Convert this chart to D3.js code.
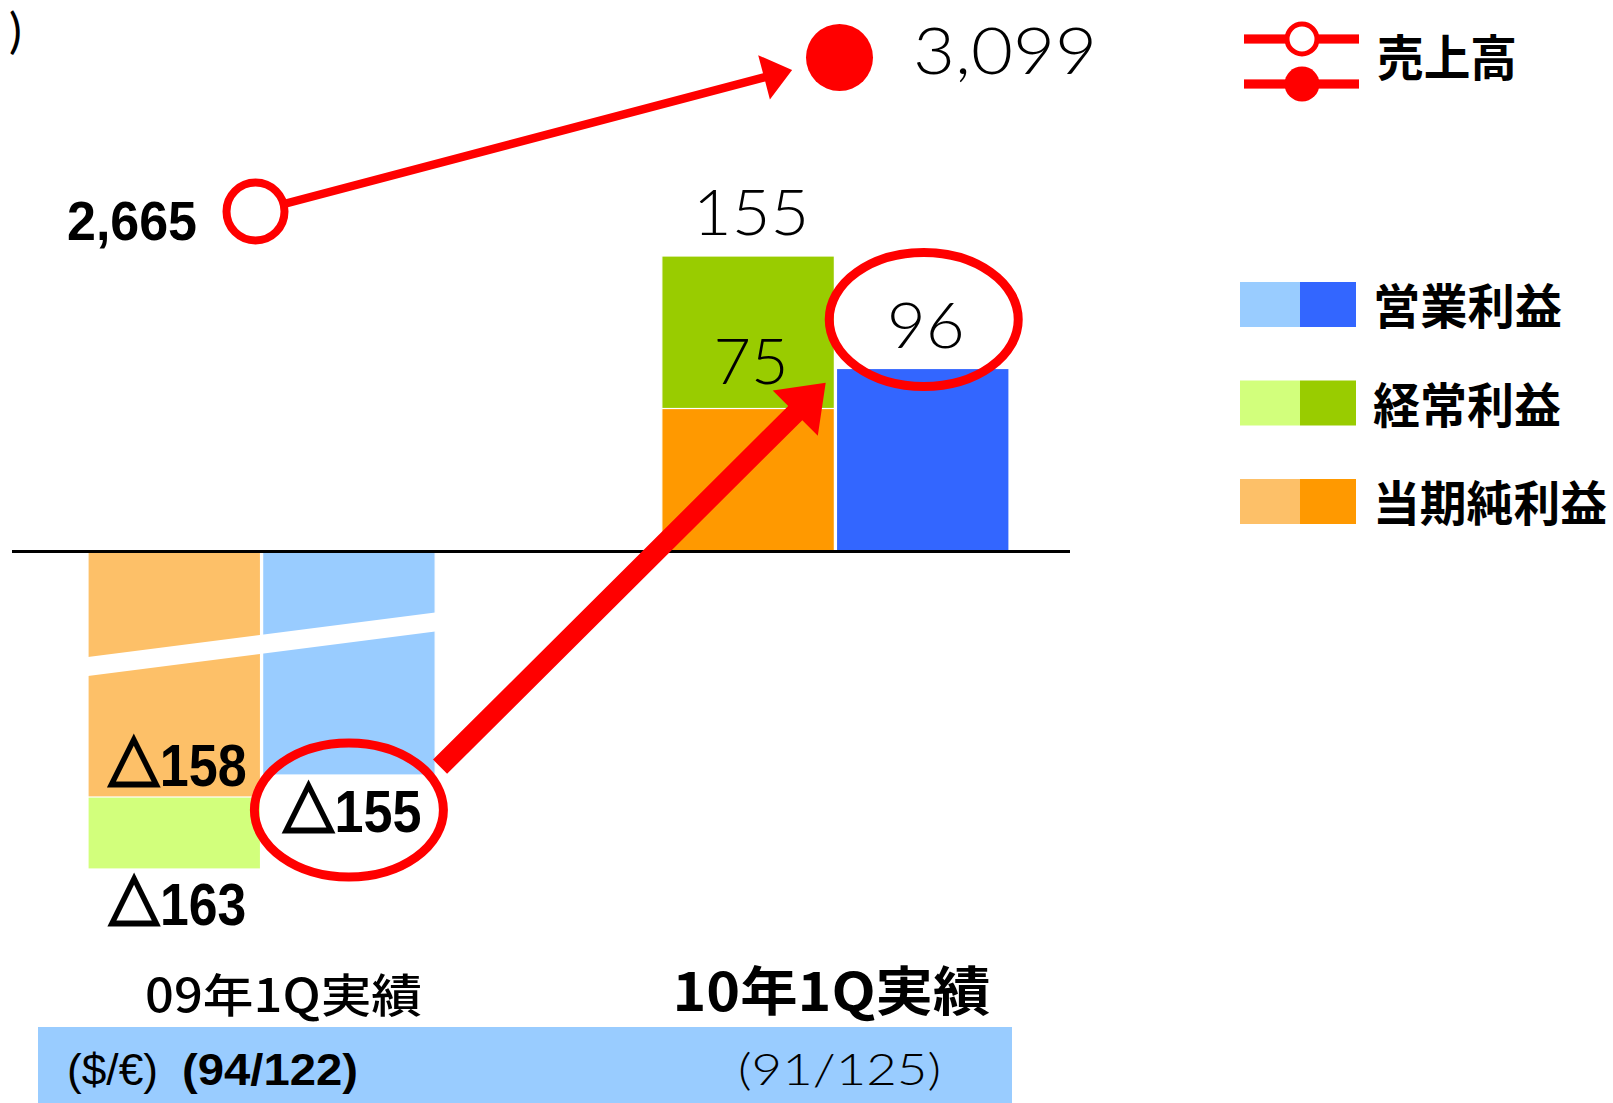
<!DOCTYPE html>
<html>
<head>
<meta charset="utf-8">
<script src="https://cdn.jsdelivr.net/npm/d3@7"></script>
<style>
  html, body { margin: 0; padding: 0; background: #fff; }
  svg { display: block; }
</style>
</head>
<body>
<svg id="chart" width="1613" height="1103"></svg>
<script>
// ---- data -------------------------------------------------------------
const periods = ["09年1Q実績", "10年1Q実績"];
const rateUnit = "($/€)";
const rates = ["(94/122)", "(91/125)"];

// 売上高 (net sales)
const salesName = "売上高";
const sales = [2665, 3099];

// profit series, one value per period
const seriesNames = ["営業利益", "経常利益", "当期純利益"];
const operatingProfit = [-155, 96];
const ordinaryProfit = [-163, 155];
const netProfit = [-158, 75];

// ---- styling ----------------------------------------------------------
const RED = "#ff0000";
const lightColors = ["#99ccff", "#d2ff7c", "#fdc068"];
const darkColors = ["#3366ff", "#99cc00", "#ff9900"];
const fBold = "'Liberation Sans', Arial, 'DejaVu Sans', sans-serif";
const fThin = "Lato, 'Open Sans', sans-serif";
const fJP = "'Noto Sans CJK JP', 'Noto Sans CJK SC', sans-serif";

const svg = d3.select("#chart");

// ---- scales -----------------------------------------------------------
const x0 = d3.scaleBand().domain(periods).range([88, 1009])
  .paddingInner(0.395).paddingOuter(0);
const x1 = d3.scaleBand().domain(["left", "right"]).range([0, x0.bandwidth()])
  .paddingInner(0.012);

// profit axis: linear on the gain side, broken (shortened) on the loss side
const yProfit = d3.scaleLinear()
  .domain([-163, -158, -155, 0, 155])
  .range([869, 797, 775, 551.5, 256]);

// sales use their own axes
const xSales = d3.scalePoint().domain(periods).range([255.5, 839.5]);
const ySales = d3.scaleLinear().domain([2500, 3200]).range([270, 21.7]);

const fmtSales = d3.format(",");
const fmtProfit = v => (v < 0 ? "△" + Math.abs(v) : String(v));

function label(g, s) {
  const t = g.append("text")
    .attr("x", s.x).attr("y", s.y)
    .attr("font-family", s.family)
    .attr("font-size", s.size)
    .attr("font-weight", s.weight || 400)
    .attr("text-anchor", s.anchor || "start")
    .attr("fill", s.fill || "#000");
  if (s.text.startsWith("△")) {
    // heavy outlined delta mark in front of the loss figure
    t.append("tspan").attr("font-family", fJP).attr("font-weight", 900)
      .attr("stroke", "#000").attr("stroke-width", 3.2).attr("stroke-linejoin", "miter")
      .text("△");
    t.append("tspan").text(s.text.slice(1));
  } else {
    t.text(s.text);
  }
  if (s.width) t.attr("textLength", s.width).attr("lengthAdjust", "spacingAndGlyphs");
  return t;
}

// filled arrow (shaft + triangular head) from point a to point b
function arrowPath(a, b, shaftW, headW, headL) {
  const dx = b[0] - a[0], dy = b[1] - a[1];
  const len = Math.hypot(dx, dy);
  const ux = dx / len, uy = dy / len, nx = -uy, ny = ux;
  const bx = b[0] - ux * headL, by = b[1] - uy * headL;
  const p = (x, y, k) => [x + nx * k, y + ny * k];
  const pts = [
    p(a[0], a[1], shaftW / 2), p(bx, by, shaftW / 2), p(bx, by, headW / 2),
    b, p(bx, by, -headW / 2), p(bx, by, -shaftW / 2), p(a[0], a[1], -shaftW / 2)
  ];
  return "M" + pts.map(q => q[0].toFixed(1) + "," + q[1].toFixed(1)).join("L") + "Z";
}

// ---- bars -------------------------------------------------------------
const bars = [];
periods.forEach((p, i) => {
  bars.push({ p, i, s: 1, col: "left", v: ordinaryProfit[i] });
  bars.push({ p, i, s: 2, col: "left", v: netProfit[i] });
  bars.push({ p, i, s: 0, col: "right", v: operatingProfit[i] });
});

const gBars = svg.append("g");
gBars.selectAll("rect").data(bars).join("rect")
  .attr("x", d => x0(d.p) + x1(d.col))
  .attr("width", x1.bandwidth())
  .attr("y", d => Math.min(yProfit(d.v), yProfit(0)))
  .attr("height", d => Math.abs(yProfit(d.v) - yProfit(0)))
  .attr("fill", d => (d.i === 0 ? lightColors[d.s] : darkColors[d.s]))
  .attr("stroke", "#fff")
  .attr("stroke-width", 1.2);

// axis-break marker across the loss bars
{
  const gx = x0(periods[0]);
  const bx0 = gx - 2, bx1 = gx + x0.bandwidth() + 2;
  const by = yProfit(-80), tilt = 45, half = 9.5;
  svg.append("path")
    .attr("d", `M${bx0},${by - half}L${bx1},${by - tilt - half}L${bx1},${by - tilt + half}L${bx0},${by + half}Z`)
    .attr("fill", "#fff");
}

// zero line
svg.append("line")
  .attr("x1", 12).attr("x2", 1070)
  .attr("y1", yProfit(0)).attr("y2", yProfit(0))
  .attr("stroke", "#000").attr("stroke-width", 3);

// ---- bar value labels ---------------------------------------------------
const gLab = svg.append("g");
const labelPos = {
  // [period index][series]: baseline offset from the bar end
  0: { 0: 57, 1: 56, 2: -11 },
  1: { 0: -20, 1: -21, 2: -25 }
};
const labelWidth = { 0: { 0: 139, 1: 138, 2: 139 }, 1: { 0: 78, 1: 116, 2: 75 } };
const labelPoints = {};
bars.forEach(d => {
  const cx = x0(d.p) + x1(d.col) + x1.bandwidth() / 2 + 3;
  const y = yProfit(d.v) + labelPos[d.i][d.s];
  const neg = d.v < 0;
  label(gLab, {
    x: cx, y, anchor: "middle", text: fmtProfit(d.v),
    family: neg ? fBold : fThin, weight: neg ? 700 : 300,
    size: neg ? 59 : 64, width: labelWidth[d.i][d.s]
  });
  labelPoints[d.i + "-" + d.s] = [cx, y];
});

// ---- highlight of 営業利益 labels and the improvement arrow -----------
const rx = 94.5, ry = 67;
const e0 = labelPoints["0-0"], e1 = labelPoints["1-0"];
const c0 = [e0[0] - 3, e0[1] - 22];
const c1 = [e1[0] - 2, e1[1] - 29];
svg.selectAll("ellipse.hl").data([c0, c1]).join("ellipse")
  .attr("class", "hl")
  .attr("cx", d => d[0]).attr("cy", d => d[1])
  .attr("rx", rx).attr("ry", ry)
  .attr("fill", "none").attr("stroke", RED).attr("stroke-width", 9);

svg.append("path")
  .attr("d", arrowPath([c0[0] + 0.965 * rx, c0[1] - 0.646 * ry],
                       [c1[0] - 1.037 * rx, c1[1] + 0.945 * ry], 20, 64, 43))
  .attr("fill", RED);

// ---- sales ------------------------------------------------------------
const salesPts = periods.map((p, i) => [xSales(p), ySales(sales[i])]);
{
  const a = salesPts[0], b = salesPts[1];
  const dx = b[0] - a[0], dy = b[1] - a[1], len = Math.hypot(dx, dy);
  const tip = [b[0] - dx / len * 49, b[1] - dy / len * 49];
  svg.append("path").attr("d", arrowPath(a, tip, 8.5, 46, 29)).attr("fill", RED);
}
svg.append("circle")
  .attr("cx", salesPts[0][0]).attr("cy", salesPts[0][1]).attr("r", 29)
  .attr("fill", "#fff").attr("stroke", RED).attr("stroke-width", 8);
svg.append("circle")
  .attr("cx", salesPts[1][0]).attr("cy", salesPts[1][1]).attr("r", 33.5)
  .attr("fill", RED);

label(svg, { x: salesPts[0][0] - 58.5, y: salesPts[0][1] + 28.5, anchor: "end",
  text: fmtSales(sales[0]), family: fBold, weight: 700, size: 56, width: 130 });
label(svg, { x: salesPts[1][0] + 73.5, y: salesPts[1][1] + 16.5,
  text: fmtSales(sales[1]), family: fThin, weight: 300, size: 65, width: 184 });

// unit bracket remnant at top-left
label(svg, { x: 9, y: 48, text: ")", family: fThin, weight: 400, size: 48 });

// ---- category labels and exchange-rate band ------------------------------
svg.append("rect").attr("x", 38).attr("y", 1027).attr("width", 974).attr("height", 76)
  .attr("fill", "#99ccff");

label(svg, { x: x0(periods[0]) + x0.bandwidth() / 2 + 22, y: 1012, anchor: "middle",
  text: periods[0], family: fJP, weight: 500, size: 46, width: 277 });
label(svg, { x: x0(periods[1]) + x0.bandwidth() / 2 - 4, y: 1011, anchor: "middle",
  text: periods[1], family: fJP, weight: 700, size: 53, width: 318 });

label(svg, { x: 67, y: 1085, text: rateUnit, family: fBold, weight: 400, size: 45, width: 91 });
label(svg, { x: 182, y: 1085, text: rates[0], family: fBold, weight: 700, size: 45, width: 176 });
label(svg, { x: 738, y: 1085, text: rates[1], family: fThin, weight: 300, size: 43, width: 203 });

// ---- legend -----------------------------------------------------------
const gLeg = svg.append("g");
[[39, false], [84, true]].forEach(([y, filled]) => {
  gLeg.append("rect").attr("x", 1244).attr("y", y - 4.6).attr("width", 115).attr("height", 9.2)
    .attr("fill", RED);
  gLeg.append("circle").attr("cx", 1302).attr("cy", y).attr("r", filled ? 17.5 : 15)
    .attr("fill", filled ? RED : "#fff")
    .attr("stroke", filled ? "none" : RED).attr("stroke-width", 5);
});
label(gLeg, { x: 1377, y: 76, text: salesName, family: fJP, weight: 700, size: 49, width: 140 });

const legendWidths = [189, 188, 234];
seriesNames.forEach((name, i) => {
  const top = 282 + i * 98.5;
  gLeg.append("rect").attr("x", 1240).attr("y", top).attr("width", 60).attr("height", 45)
    .attr("fill", lightColors[i]);
  gLeg.append("rect").attr("x", 1300).attr("y", top).attr("width", 56).attr("height", 45)
    .attr("fill", darkColors[i]);
  label(gLeg, { x: 1373, y: top + 42, text: name, family: fJP, weight: 700, size: 48,
    width: legendWidths[i] });
});
</script>
</body>
</html>
